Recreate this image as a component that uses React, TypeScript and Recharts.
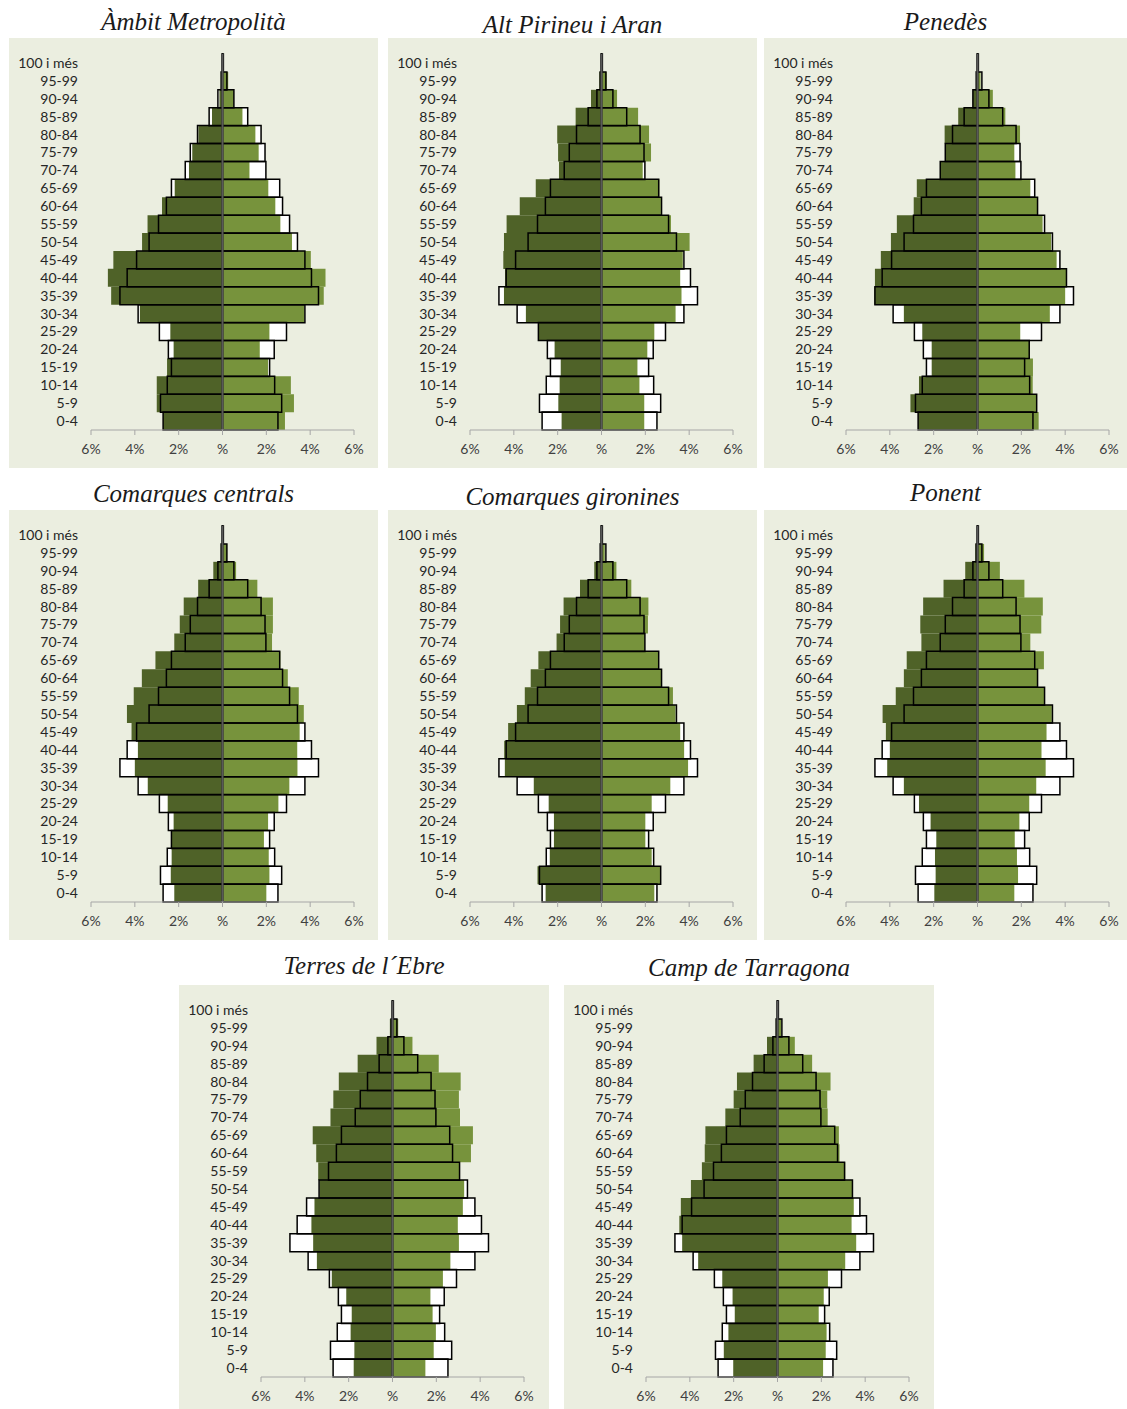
import { ComposedChart, Bar, XAxis, YAxis, ReferenceLine } from 'recharts'

const ages = [
  '100 i més', '95-99', '90-94', '85-89', '80-84', '75-79', '70-74', '65-69', '60-64', '55-59', '50-54',
  '45-49', '40-44', '35-39', '30-34', '25-29', '20-24', '15-19', '10-14', '5-9', '0-4',
]

// Catalunya (contorn negre)
const catHomes = [0.02, 0.06, 0.21, 0.61, 1.14, 1.47, 1.7, 2.33, 2.56, 2.92, 3.35, 3.92, 4.35, 4.68, 3.85, 2.88, 2.47, 2.33, 2.52, 2.83, 2.71]
const catDones = [0.04, 0.2, 0.52, 1.15, 1.76, 1.94, 1.98, 2.61, 2.74, 3.06, 3.42, 3.76, 4.06, 4.38, 3.76, 2.92, 2.36, 2.15, 2.38, 2.7, 2.53]

const metroHomes = [0.02, 0.08, 0.14, 0.48, 1.1, 1.38, 1.53, 2.18, 2.76, 3.42, 3.67, 4.98, 5.23, 5.08, 3.77, 2.38, 2.23, 2.53, 3.0, 3.0, 2.71]
const metroDones = [0.05, 0.26, 0.52, 0.91, 1.5, 1.65, 1.23, 2.09, 2.41, 2.64, 3.17, 4.03, 4.7, 4.62, 3.74, 2.14, 1.7, 2.08, 3.12, 3.26, 2.85]

const pirineuHomes = [0.02, 0.1, 0.48, 1.18, 2.02, 1.98, 1.94, 3.0, 3.73, 4.33, 4.45, 4.48, 4.4, 4.45, 3.45, 2.88, 2.14, 1.86, 1.91, 1.97, 1.82]
const pirineuDones = [0.04, 0.24, 0.71, 1.67, 2.17, 2.26, 1.88, 2.64, 2.71, 3.17, 4.02, 3.71, 3.59, 3.65, 3.38, 2.41, 2.09, 1.64, 1.73, 1.95, 1.95]

const penedesHomes = [0.01, 0.06, 0.21, 0.88, 1.5, 1.47, 1.71, 2.77, 2.91, 3.68, 3.95, 4.41, 4.68, 4.71, 3.36, 2.52, 2.09, 2.09, 2.67, 3.06, 2.71]
const penedesDones = [0.03, 0.14, 0.7, 1.27, 1.94, 1.68, 1.73, 2.41, 2.74, 2.97, 3.36, 3.61, 4.06, 4.0, 3.3, 1.95, 2.36, 2.53, 2.52, 2.7, 2.79]

const centralsHomes = [0.02, 0.08, 0.42, 1.11, 1.77, 1.95, 2.2, 3.06, 3.68, 4.05, 4.36, 4.15, 3.86, 4.0, 3.41, 2.5, 2.23, 2.32, 2.32, 2.36, 2.2]
const centralsDones = [0.04, 0.21, 0.62, 1.59, 2.3, 2.3, 2.26, 2.64, 2.98, 3.48, 3.71, 3.52, 3.41, 3.42, 3.05, 2.55, 2.08, 1.89, 2.11, 2.14, 2.0]

const gironinesHomes = [0.01, 0.05, 0.33, 0.98, 1.73, 1.89, 2.05, 2.88, 3.23, 3.5, 3.86, 4.26, 4.44, 4.41, 3.09, 2.41, 2.17, 2.17, 2.36, 2.92, 2.55]
const gironinesDones = [0.03, 0.15, 0.68, 1.36, 2.14, 2.12, 1.98, 2.62, 2.74, 3.26, 3.38, 3.59, 3.77, 3.95, 3.14, 2.29, 2.0, 2.0, 2.29, 2.71, 2.41]

const ponentHomes = [0.02, 0.1, 0.56, 1.55, 2.48, 2.61, 2.56, 3.23, 3.36, 3.73, 4.33, 4.18, 4.0, 4.12, 3.36, 2.67, 2.14, 1.88, 1.94, 1.91, 1.97]
const ponentDones = [0.05, 0.3, 1.02, 2.14, 2.98, 2.91, 2.41, 3.03, 2.76, 3.06, 3.39, 3.15, 2.92, 3.11, 2.68, 2.36, 1.91, 1.7, 1.8, 1.85, 1.68]

const ebreHomes = [0.03, 0.12, 0.73, 1.59, 2.45, 2.7, 2.83, 3.64, 3.48, 3.39, 3.33, 3.56, 3.7, 3.62, 3.45, 2.77, 2.11, 1.86, 1.91, 1.74, 1.77]
const ebreDones = [0.06, 0.26, 0.91, 2.11, 3.11, 3.03, 3.08, 3.67, 3.58, 3.06, 3.27, 3.21, 2.98, 3.03, 2.64, 2.3, 1.73, 1.83, 1.98, 1.88, 1.5]

const tarragonaHomes = [0.02, 0.08, 0.48, 1.09, 1.85, 2.0, 2.38, 3.29, 3.32, 3.45, 3.95, 4.41, 4.48, 4.35, 3.62, 2.52, 2.05, 1.95, 2.24, 2.45, 2.02]
const tarragonaDones = [0.04, 0.17, 0.79, 1.58, 2.42, 2.27, 2.29, 2.8, 2.83, 3.09, 3.41, 3.48, 3.38, 3.59, 3.09, 2.3, 2.11, 1.88, 2.24, 2.2, 2.08]

const xTicks = [-6, -4, -2, 0, 2, 4, 6]

const BG = '#ebeee0'
const DARK = '#4f6228'
const LIGHT = '#77933c'
const FONT = 'Lato, "Open Sans", sans-serif'

interface PanelProps {
  title: string
  homes: number[]
  dones: number[]
  left: number
  top: number
  width: number
  height: number
  titleY: number
}

// one hidden category axis per layer so the bars overlap instead of sitting side by side
const layerAxes = ['a', 'b', 'c', 'd', 'e', 'g']

function Pyramid({ title, homes, dones, left, top, width, height, titleY }: PanelProps) {
  const data = ages.map((age, i) => ({
    age,
    catM: -catHomes[i],
    catF: catDones[i],
    m: -homes[i],
    f: dones[i],
  }))
  const rightMargin = width - 345
  return (
    <>
      <div
        style={{
          position: 'absolute',
          left,
          width,
          top: titleY - 14,
          textAlign: 'center',
          fontFamily: '"Liberation Serif", serif',
          fontStyle: 'italic',
          fontSize: 25,
          lineHeight: '28px',
          color: '#1a1a1a',
        }}
      >
        {title}
      </div>
      <div style={{ position: 'absolute', left, top, width, height, background: BG, overflow: 'hidden' }}>
        <ComposedChart
          width={width}
          height={430}
          data={data}
          layout="vertical"
          barCategoryGap={0}
          barGap={0}
          margin={{ top: 16, right: rightMargin, left: 4, bottom: 13 }}
          style={{ fontFamily: FONT }}
        >
          <XAxis
            type="number"
            xAxisId={0}
            domain={[-6, 6]}
            ticks={xTicks}
            tickFormatter={(v: number) => (v === 0 ? '%' : `${Math.abs(v)}%`)}
            tick={{ fontSize: 14, fill: '#404040' }}
            stroke="#a6a6a6"
            tickSize={5}
            tickMargin={9}
            height={25}
          />
          {layerAxes.map((id) => (
            <YAxis key={id} yAxisId={id} type="category" dataKey="age" hide width={0} />
          ))}
          <YAxis
            yAxisId="lab"
            type="category"
            dataKey="age"
            width={78}
            axisLine={false}
            tickLine={false}
            tickMargin={7}
            interval={0}
            tick={{ fontSize: 14, fill: '#262626' }}
          />
          <Bar dataKey="catM" yAxisId="a" fill="#ffffff" isAnimationActive={false} />
          <Bar dataKey="catF" yAxisId="b" fill="#ffffff" isAnimationActive={false} />
          <Bar dataKey="m" yAxisId="c" fill={DARK} isAnimationActive={false} />
          <Bar dataKey="f" yAxisId="d" fill={LIGHT} isAnimationActive={false} />
          <Bar dataKey="catM" yAxisId="e" fill="none" stroke="#000000" strokeWidth={1.5} isAnimationActive={false} />
          <Bar dataKey="catF" yAxisId="g" fill="none" stroke="#000000" strokeWidth={1.5} isAnimationActive={false} />
          <ReferenceLine x={0} yAxisId="lab" stroke="#595959" strokeWidth={2} />
        </ComposedChart>
      </div>
    </>
  )
}

export default function App() {
  return (
    <div style={{ position: 'absolute', left: 0, top: 0, width: 1127, height: 1409, background: '#ffffff', overflow: 'hidden' }}>
      <Pyramid title="Àmbit Metropolità" homes={metroHomes} dones={metroDones} left={9} top={38} width={369} height={430} titleY={22} />
      <Pyramid title="Alt Pirineu i Aran" homes={pirineuHomes} dones={pirineuDones} left={388} top={38} width={369} height={430} titleY={25} />
      <Pyramid title="Penedès" homes={penedesHomes} dones={penedesDones} left={764} top={38} width={363} height={430} titleY={22} />
      <Pyramid title="Comarques centrals" homes={centralsHomes} dones={centralsDones} left={9} top={510} width={369} height={430} titleY={494} />
      <Pyramid title="Comarques gironines" homes={gironinesHomes} dones={gironinesDones} left={388} top={510} width={369} height={430} titleY={497} />
      <Pyramid title="Ponent" homes={ponentHomes} dones={ponentDones} left={764} top={510} width={363} height={430} titleY={493} />
      <Pyramid title="Terres de l´Ebre" homes={ebreHomes} dones={ebreDones} left={179} top={985} width={370} height={424} titleY={966} />
      <Pyramid title="Camp de Tarragona" homes={tarragonaHomes} dones={tarragonaDones} left={564} top={985} width={370} height={424} titleY={968} />
    </div>
  )
}
